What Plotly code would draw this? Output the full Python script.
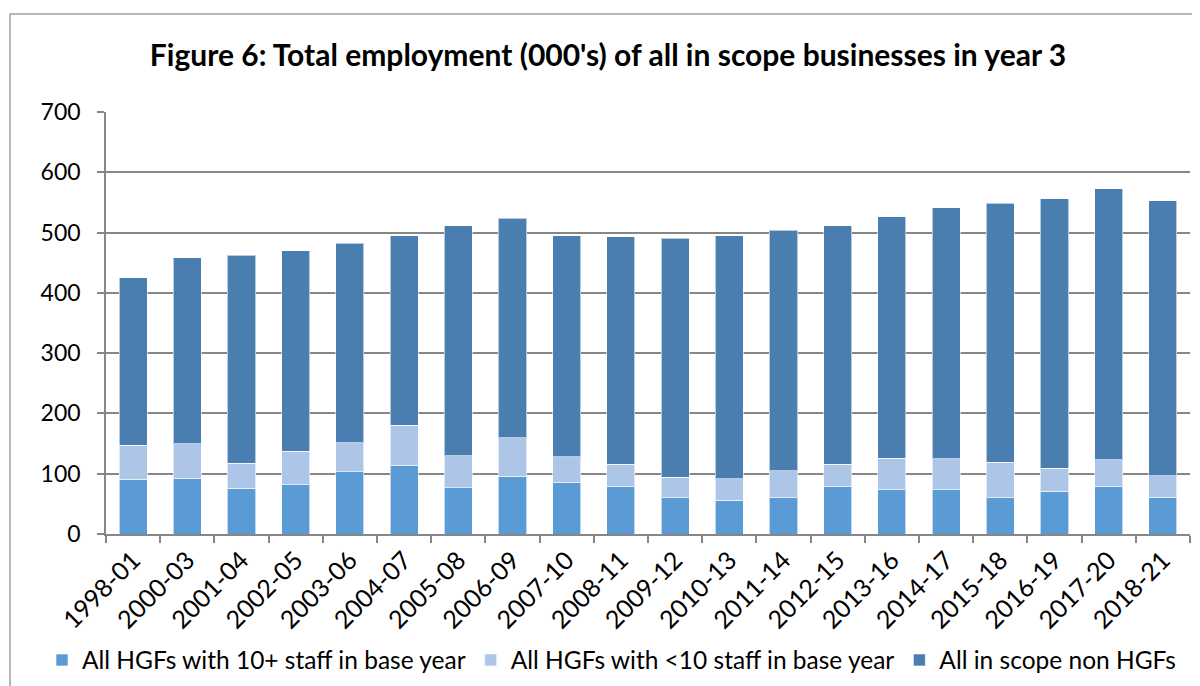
import plotly.graph_objects as go

periods = ["1998-01", "2000-03", "2001-04", "2002-05", "2003-06", "2004-07", "2005-08",
           "2006-09", "2007-10", "2008-11", "2009-12", "2010-13", "2011-14", "2012-15",
           "2013-16", "2014-17", "2015-18", "2016-19", "2017-20", "2018-21"]
hgf_10plus = [91, 92, 76, 82, 103, 114, 77, 96, 86, 78, 60, 56, 60, 78, 73, 73, 60, 71, 78, 61]
hgf_under10 = [56, 58, 41, 55, 48, 66, 53, 64, 42, 38, 34, 36, 45, 38, 53, 52, 59, 38, 45, 36]
non_hgf = [278, 308, 345, 333, 331, 315, 381, 364, 367, 377, 397, 403, 399, 395, 400, 416, 430, 447, 450, 456]

series = [
    ("All HGFs with 10+ staff in base year", hgf_10plus, "#5B9BD5"),
    ("All HGFs with <10 staff in base year", hgf_under10, "#ADC6E7"),
    ("All in scope non HGFs", non_hgf, "#4A7EB0"),
]

FONT = "Lato"
fig = go.Figure()
for name, vals, col in series:
    fig.add_trace(go.Bar(x=periods, y=vals, name=name, marker_color=col,
                         marker_line=dict(color="rgba(255,255,255,0.6)", width=1)))

OFF = 8  # page body offset
W, H = 1200, 686
# target plot area in screenshot pixels: x 106..1190, y 112..534
L = 106 - OFF
T = 112 - OFF
R = W - (1190 - OFF)
B = H - (534 - OFF)
pw, ph = W - L - R, H - T - B
def px_x(x):  # screenshot x -> paper
    return (x - OFF - L) / pw
def px_y(y):  # screenshot y -> paper
    return (H - B - (y - OFF)) / ph

fig.update_layout(
    width=W, height=H, barmode="stack", bargap=0.48,
    margin=dict(l=L, r=R, t=T, b=B),
    paper_bgcolor="white", plot_bgcolor="white",
    font=dict(family=FONT, color="black"),
    title=dict(text="<b>Figure 6: Total employment (000's) of all in scope businesses in year 3</b>",
               x=(608 - OFF) / W, xanchor="center", y=1 - (55 - OFF) / H, yanchor="middle",
               font=dict(family=FONT, size=30, color="black")),
    showlegend=True,
    legend=dict(orientation="h", x=px_x(42), xanchor="left", y=px_y(660),
                yanchor="middle", font=dict(family=FONT, size=24.5), traceorder="normal",
                bgcolor="rgba(0,0,0,0)"),
    xaxis=dict(type="category", tickangle=-45, tickfont=dict(family=FONT, size=25),
               showline=True, linecolor="#878787", linewidth=1.5,
               ticks="outside", tickson="boundaries", ticklen=7, tickcolor="#878787", tickwidth=1.5,
               showgrid=False),
    yaxis=dict(range=[0, 700], dtick=100, tickfont=dict(family=FONT, size=23),
               showline=True, linecolor="#878787", linewidth=1.5,
               showgrid=True, gridcolor="#878787", gridwidth=1.5,
               ticks="outside", ticklen=7, tickcolor="#878787", tickwidth=1.5,
               ticklabelstandoff=12, zeroline=False),
)

# outer chart border
fig.add_shape(type="rect", xref="paper", yref="paper",
              x0=px_x(10), x1=px_x(1199), y0=px_y(720), y1=px_y(14),
              line=dict(color="#A0A0A0", width=1.5), fillcolor="rgba(0,0,0,0)", layer="below")

fig.write_html("out.html")
